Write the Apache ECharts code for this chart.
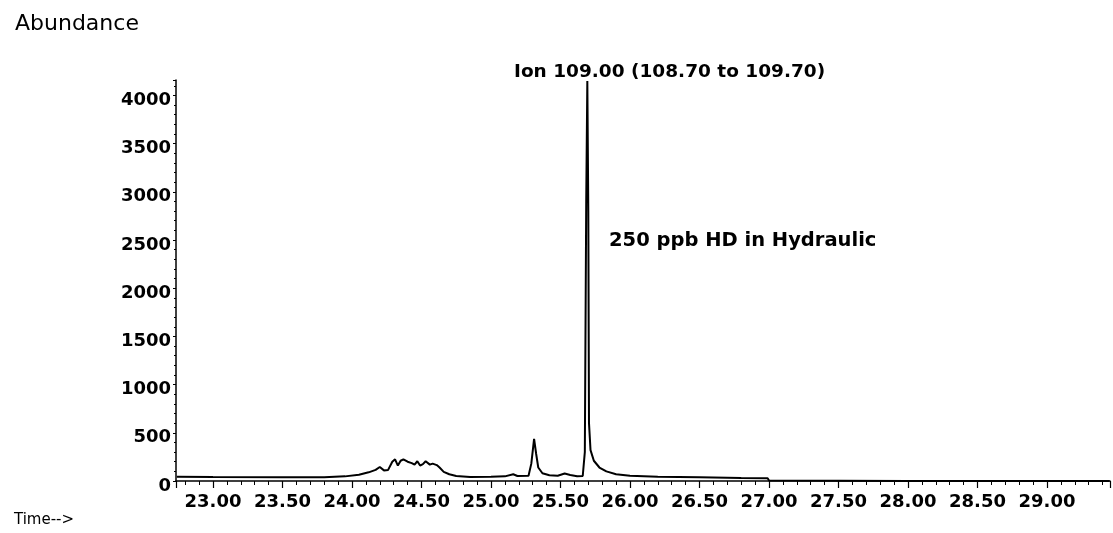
<!DOCTYPE html>
<html>
<head>
<meta charset="utf-8">
<script src="https://cdn.jsdelivr.net/npm/echarts@6/dist/echarts.min.js"></script>
<style>
html,body{margin:0;padding:0;background:#fff;}
#chart{width:1113px;height:533px;}
</style>
</head>
<body>
<div id="chart"></div>
<script>
// Retention time (min)
const times = [
  22.74, 23.00, 23.50, 23.80, 23.95, 24.05, 24.12, 24.17, 24.20, 24.23,
  24.26, 24.29, 24.31, 24.33, 24.35, 24.37, 24.40, 24.43, 24.45, 24.47,
  24.49, 24.51, 24.53, 24.56, 24.58, 24.61, 24.63, 24.66, 24.70, 24.75,
  24.85, 25.00, 25.10, 25.16, 25.19, 25.27, 25.29, 25.31, 25.325, 25.34,
  25.37, 25.42, 25.48, 25.53, 25.57, 25.62, 25.66, 25.675, 25.685, 25.693,
  25.70, 25.705, 25.716, 25.74, 25.78, 25.83, 25.90, 26.00, 26.20, 26.50,
  26.80, 26.99, 27.00, 27.01, 28.00, 29.00, 29.45
];
// Abundance
const abundance = [
  45, 42, 40, 40, 48, 65, 90, 115, 145, 110,
  115, 200, 225, 160, 210, 225, 200, 185, 170, 205,
  160, 175, 205, 170, 180, 165, 140, 95, 70, 52,
  42, 45, 48, 70, 52, 55, 180, 436, 280, 140,
  80, 60, 55, 78, 62, 50, 52, 300, 2900, 4150,
  2800, 600, 320, 210, 140, 100, 70, 55, 45, 40,
  32, 28, 5, 0, 0, 0, 0
];

const titleText = 'Ion 109.00 (108.70 to 109.70)';
const noteText = '250 ppb HD in Hydraulic';
const yName = 'Abundance';
const xName = 'Time-->';

const chart = echarts.init(document.getElementById('chart'), null, {renderer: 'canvas'});
const FONT = 'DejaVu Sans';
chart.setOption({
  animation: false,
  backgroundColor: '#ffffff',
  title: [
    {text: yName, left: 10, top: 8, textStyle: {fontFamily: FONT, fontSize: 22, fontWeight: 'normal', color: '#000'}},
    {text: titleText, left: 509, top: 58, textStyle: {fontFamily: FONT, fontSize: 18.5, fontWeight: 'bold', color: '#000'}},
    {text: noteText, left: 604, top: 226, textStyle: {fontFamily: FONT, fontSize: 19.5, fontWeight: 'bold', color: '#000'}},
    {text: xName, left: 9, top: 508, textStyle: {fontFamily: FONT, fontSize: 15, fontWeight: 'normal', color: '#000'}}
  ],
  grid: {left: 176, right: 3, top: 80, bottom: 52, containLabel: false},
  xAxis: {
    type: 'value',
    min: 22.734,
    max: 29.453,
    splitNumber: 13,
    axisLine: {show: true, onZero: false, lineStyle: {color: '#000', width: 1.5}},
    axisTick: {show: true, inside: false, length: 7, lineStyle: {color: '#000', width: 1.2}},
    minorTick: {show: true, splitNumber: 5, length: 4, lineStyle: {color: '#000', width: 1}},
    splitLine: {show: false},
    axisLabel: {
      show: true, margin: 12, showMinLabel: false, showMaxLabel: false,
      fontFamily: FONT, fontSize: 18, fontWeight: 'bold', color: '#000',
      formatter: v => v.toFixed(2)
    }
  },
  yAxis: {
    type: 'value',
    min: 0,
    max: 4160,
    interval: 500,
    axisLine: {show: true, lineStyle: {color: '#000', width: 1.5}},
    axisTick: {show: true, inside: false, length: 3, lineStyle: {color: '#000', width: 1}},
    minorTick: {show: true, splitNumber: 5, length: 2, lineStyle: {color: '#000', width: 1}},
    splitLine: {show: false},
    axisLabel: {
      show: true, margin: 5, showMaxLabel: false,
      fontFamily: FONT, fontSize: 18, fontWeight: 'bold', color: '#000',
      formatter: v => '{a|' + Math.round(v) + '}',
      rich: {a: {fontFamily: FONT, fontSize: 18, fontWeight: 'bold', color: '#000', lineHeight: 28, verticalAlign: 'bottom'}}
    }
  },
  series: [{
    type: 'line',
    data: times.map((t, i) => [t, abundance[i]]),
    showSymbol: false,
    symbol: 'none',
    smooth: false,
    lineStyle: {color: '#000', width: 2},
    clip: true
  }]
});
</script>
</body>
</html>
